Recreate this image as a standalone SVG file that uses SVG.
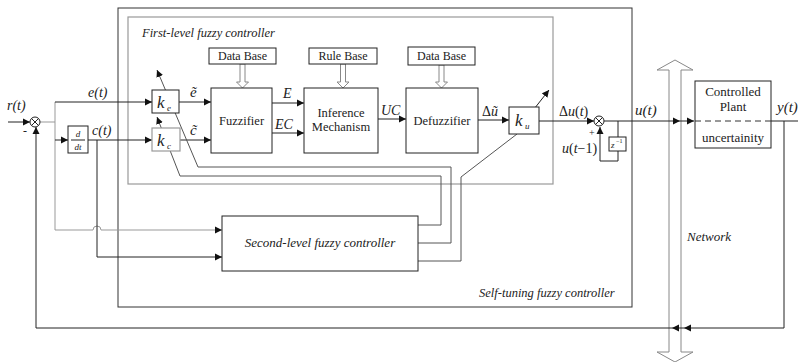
<svg xmlns="http://www.w3.org/2000/svg" width="798" height="362" viewBox="0 0 798 362" font-family="'Liberation Serif', 'Times New Roman', serif">
<defs>
<marker id="ah" markerWidth="8" markerHeight="8" refX="7" refY="4" orient="auto" markerUnits="userSpaceOnUse">
<path d="M0,0.5 L7,4 L0,7.5 Z" fill="#111"/>
</marker>
</defs>
<style>
text{fill:#222}
.it{font-style:italic}
.ln{stroke:#222;stroke-width:1;fill:none}
.gl{stroke:#999;stroke-width:1;fill:none}
.md{stroke:#555;stroke-width:1;fill:none}
.box{fill:#fff;stroke:#222;stroke-width:1}
.gbox{fill:#fff;stroke:#999;stroke-width:1.2}
.frame{fill:none;stroke:#333;stroke-width:1}
.gframe{fill:none;stroke:#999;stroke-width:1.2}
.hol{fill:#fff;stroke:#888;stroke-width:1}
.c{text-anchor:middle}
</style>
<rect width="798" height="362" fill="#fff"/>

<g id="network">
<polygon class="hol" points="669,70 657,70 675,60 693,70 681,70 681,352 693,352 675,362 657,352 669,352"/>
<text class="it" x="687" y="241" font-size="13">Network</text>
</g>

<g id="self-tuning">
<rect class="frame" x="118" y="8" width="514" height="299"/>
<text class="it" x="479" y="297" font-size="12.5">Self-tuning fuzzy controller</text>
</g>

<g id="first-level">
<rect class="gframe" x="128" y="17" width="425" height="167"/>
<text class="it" x="142" y="37" font-size="12.5">First-level fuzzy controller</text>
</g>

<g id="connectors">
<path class="ln" d="M8,122 H30" marker-end="url(#ah)"/>
<path class="ln" d="M784,121 V328 H684" marker-end="url(#ah)"/>
<path class="ln" d="M684,328 H672" marker-end="url(#ah)"/>
<path class="ln" d="M672,328 H36 V127" marker-end="url(#ah)"/>
<path class="gl" d="M40,122 H55"/>
<path class="gl" d="M55,102 V230 H93 A4,4 0 0 1 101,230 H222" marker-end="url(#ah)"/>
<path class="ln" d="M55,102 H152" marker-end="url(#ah)"/>
<path class="ln" d="M55,140 H68" marker-end="url(#ah)"/>
<path class="ln" d="M88,140 H152" marker-end="url(#ah)"/>
<path class="ln" d="M97,140 V257 H222" marker-end="url(#ah)"/>
<path class="ln" d="M179,102 H211" marker-end="url(#ah)"/>
<path class="ln" d="M180,140 H211" marker-end="url(#ah)"/>
<path class="ln" d="M272,103 H304" marker-end="url(#ah)"/>
<path class="ln" d="M272,133 H304" marker-end="url(#ah)"/>
<path class="ln" d="M378,119 H406" marker-end="url(#ah)"/>
<path class="ln" d="M478,120 H509" marker-end="url(#ah)"/>
<path class="ln" d="M539,121 H594" marker-end="url(#ah)"/>
<path class="ln" d="M604,121 H680" marker-end="url(#ah)"/>
<path class="ln" d="M680,121 H694" marker-end="url(#ah)"/>
<path class="ln" d="M618,121 V161 H600 V127" marker-end="url(#ah)"/>
<path class="ln" d="M771,121 H798"/>
<path class="md" d="M418,225 H441 V176 H180 L157,117" marker-end="url(#ah)"/>
<path class="md" d="M418,243 H451 V167 H198 L157,70" marker-end="url(#ah)"/>
<path class="md" d="M418,261 H461 V177 L517,134"/>
<path class="ln" d="M527,118 L549,90" marker-end="url(#ah)"/>
<polygon class="hol" points="240,64 240,82 236.5,82 242.5,88 248.5,82 245,82 245,64"/>
<polygon class="hol" points="340.5,64 340.5,82 337,82 343,88 349,82 345.5,82 345.5,64"/>
<polygon class="hol" points="439,65 439,82 435.5,82 441.5,88 447.5,82 444,82 444,65"/>
</g>

<g id="sum1">
<circle class="box" cx="35" cy="122" r="5"/>
<path class="ln" d="M31.5,118.5 L38.5,125.5 M38.5,118.5 L31.5,125.5"/>
<text class="it" x="7" y="110" font-size="14">r(t)</text>
<text x="23" y="135" font-size="12">-</text>
</g>

<g id="ddt">
<rect class="box" x="68" y="126" width="20" height="27"/>
<text class="it c" x="78" y="137" font-size="9">d</text>
<line class="ln" x1="71" y1="140" x2="85" y2="140"/>
<text class="it c" x="78" y="150" font-size="9">dt</text>
<text class="it" x="88" y="97" font-size="14">e(t)</text>
<text class="it" x="92" y="135" font-size="14">c(t)</text>
</g>

<g id="ke">
<rect class="box" x="152" y="90" width="27" height="23"/>
<text class="it" x="157" y="108" font-size="17">k</text>
<text class="it" x="167" y="111" font-size="9">e</text>
<text class="it" x="190" y="97" font-size="15">ẽ</text>
</g>

<g id="kc">
<rect class="gbox" x="152" y="128" width="28" height="23"/>
<text class="it" x="157" y="146" font-size="17">k</text>
<text class="it" x="167" y="149" font-size="9">c</text>
<text class="it" x="190" y="135" font-size="15">c̃</text>
</g>

<g id="database1">
<rect class="box" x="209" y="48" width="67" height="16"/>
<text class="c" x="242.5" y="60" font-size="12">Data Base</text>
</g>

<g id="fuzzifier">
<rect class="box" x="211" y="88" width="61" height="65"/>
<text class="c" x="241.5" y="125" font-size="12.5">Fuzzifier</text>
<text class="it" x="283" y="98" font-size="14">E</text>
<text class="it" x="275" y="129" font-size="14">EC</text>
</g>

<g id="rulebase">
<rect class="box" x="309" y="48" width="68" height="16"/>
<text class="c" x="343" y="60" font-size="12">Rule Base</text>
</g>

<g id="inference">
<rect class="box" x="304" y="88" width="74" height="65"/>
<text class="c" x="341" y="117" font-size="12.5">Inference</text>
<text class="c" x="341" y="131" font-size="12.5">Mechanism</text>
<text class="it" x="381" y="115" font-size="14">UC</text>
</g>

<g id="database2">
<rect class="box" x="408" y="47" width="67" height="18"/>
<text class="c" x="441.5" y="60" font-size="12">Data Base</text>
</g>

<g id="defuzzifier">
<rect class="box" x="406" y="88" width="72" height="65"/>
<text class="c" x="442" y="125" font-size="12.5">Defuzzifier</text>
<text x="482" y="116" font-size="14">Δ<tspan class="it">ũ</tspan></text>
</g>

<g id="ku">
<rect class="box" x="509" y="107" width="30" height="27"/>
<text class="it" x="515" y="126" font-size="17">k</text>
<text class="it" x="525" y="129" font-size="9">u</text>
</g>

<g id="sum2">
<circle class="box" cx="599" cy="121" r="5"/>
<path class="ln" d="M595.5,117.5 L602.5,124.5 M602.5,117.5 L595.5,124.5"/>
<text x="559" y="116" font-size="14">Δ<tspan class="it">u</tspan>(<tspan class="it">t</tspan>)</text>
<text x="589" y="136" font-size="10">+</text>
<text x="562" y="153" font-size="14"><tspan class="it">u</tspan>(<tspan class="it">t</tspan>−1)</text>
</g>

<g id="delay">
<rect class="box" x="609" y="137" width="17" height="14"/>
<text class="it" x="611" y="148" font-size="9">z</text>
<text x="616" y="143" font-size="6">−1</text>
<text class="it" x="635" y="115" font-size="15">u(t)</text>
</g>

<g id="plant">
<rect class="box" x="695" y="81" width="76" height="67"/>
<line x1="695" y1="121" x2="771" y2="121" stroke="#333" stroke-dasharray="6,4"/>
<text class="c" x="733" y="96" font-size="13">Controlled</text>
<text class="c" x="733" y="111" font-size="13">Plant</text>
<text class="c" x="733" y="142" font-size="13">uncertainity</text>
<text class="it" x="777" y="112" font-size="15">y(t)</text>
</g>

<g id="second-level">
<rect class="box" x="222" y="216" width="196" height="55"/>
<text class="it c" x="320" y="247" font-size="13">Second-level fuzzy controller</text>
</g>
</svg>
